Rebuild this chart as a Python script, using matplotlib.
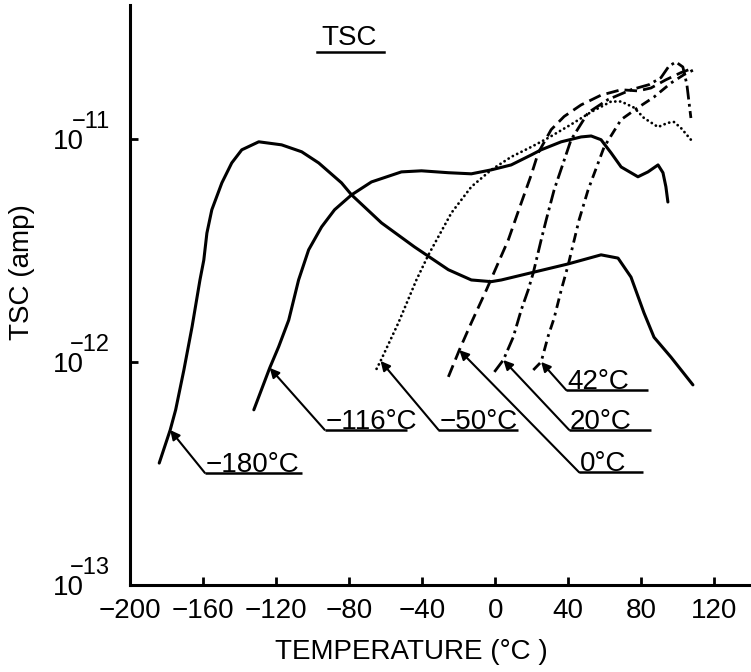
import matplotlib
matplotlib.use("Agg")
import matplotlib.pyplot as plt
import matplotlib.transforms as mtransforms

plt.rcParams['font.family'] = ['Liberation Sans', 'DejaVu Sans']

# ---------------- data ----------------
t_m180 = [-184, -178, -175, -170.5, -166, -161.7, -159.6, -157.9, -155.2, -149.7, -144.3,
          -138.8, -129.5, -117, -106, -96.7, -84.2, -78.7, -62.3, -44.3, -25.7, -13.1,
          -2.2, 3.3, 19.7, 39.9, 57.9, 67.2, 74.3, 81.4, 86.9, 96.2, 108.2]
i_m180 = [3.52e-13, 4.95e-13, 6.10e-13, 9.2e-13, 1.44e-12, 2.33e-12, 2.86e-12, 3.78e-12,
          4.81e-12, 6.35e-12, 7.80e-12, 8.93e-12, 9.70e-12, 9.40e-12, 8.75e-12, 7.80e-12,
          6.35e-12, 5.61e-12, 4.20e-12, 3.28e-12, 2.59e-12, 2.33e-12, 2.29e-12, 2.33e-12,
          2.51e-12, 2.75e-12, 3.02e-12, 2.92e-12, 2.40e-12, 1.66e-12, 1.29e-12, 1.05e-12,
          7.89e-13]

t_m116 = [-132.2, -123.5, -118.6, -113.1, -107.7, -102.2, -95.1, -88, -78.7, -67.8, -51.4,
          -40.4, -25.7, -13.1, -2.2, 8.7, 19.7, 25.1, 36.1, 47, 52.5, 57.9, 63.4, 68.9,
          78.1, 83.6, 89.1, 91.8, 93.4, 94.5]
i_m116 = [6.10e-13, 9.40e-13, 1.17e-12, 1.54e-12, 2.33e-12, 3.18e-12, 4.03e-12, 4.81e-12,
          5.61e-12, 6.41e-12, 7.11e-12, 7.19e-12, 7.05e-12, 6.97e-12, 7.26e-12, 7.64e-12,
          8.47e-12, 8.93e-12, 9.70e-12, 1.02e-11, 1.03e-11, 9.91e-12, 8.65e-12, 7.48e-12,
          6.76e-12, 7.11e-12, 7.64e-12, 7.05e-12, 6.10e-12, 5.21e-12]

t_m50 = [-65, -62.8, -53, -43.2, -36.6, -24, -13.1, -2.2, 8.7, 19.7, 29, 41.5, 52.5, 63.4,
         68.9, 76, 81.4, 89.1, 94.5, 97.8, 101.6, 107.1]
i_m50 = [9.31e-13, 1.01e-12, 1.50e-12, 2.33e-12, 3.02e-12, 4.66e-12, 6.10e-12, 7.26e-12,
         8.30e-12, 9.20e-12, 1.01e-11, 1.16e-11, 1.32e-11, 1.47e-11, 1.47e-11, 1.38e-11,
         1.24e-11, 1.13e-11, 1.18e-11, 1.19e-11, 1.12e-11, 9.91e-12]

t_0 = [-25.7, -19.7, -13.1, -4.9, 1.1, 7.1, 14.2, 19.7, 23.5, 30.6, 37.7, 47, 57.9, 68.9,
       78.1, 85.2, 93.4, 101.6, 108.7]
i_0 = [8.57e-13, 1.13e-12, 1.50e-12, 2.10e-12, 2.72e-12, 3.52e-12, 5.16e-12, 6.90e-12,
       8.65e-12, 1.10e-11, 1.26e-11, 1.42e-11, 1.57e-11, 1.66e-11, 1.64e-11, 1.69e-11,
       1.84e-11, 1.98e-11, 2.08e-11]

t_20 = [-0.5, 4.4, 9.8, 14.2, 18, 20.8, 25.1, 27.9, 32.2, 41.5, 50.8, 61.7, 74.3, 84.2,
        90.7, 95.1, 98.9, 102.7, 104.9, 107.1]
i_20 = [9.02e-13, 1.02e-12, 1.29e-12, 1.71e-12, 2.10e-12, 2.51e-12, 3.52e-12, 4.34e-12,
        5.90e-12, 9.91e-12, 1.31e-11, 1.50e-11, 1.66e-11, 1.75e-11, 1.88e-11, 2.12e-11,
        2.21e-11, 2.10e-11, 1.75e-11, 1.24e-11]

t_42 = [20.8, 25.1, 29, 32.2, 36.1, 39.9, 45.9, 50.8, 59.6, 68.9, 78.1, 86.9, 96.2, 103.3, 108.7]
i_42 = [9.20e-13, 1.00e-12, 1.31e-12, 1.57e-12, 2.10e-12, 2.72e-12, 4.34e-12, 5.90e-12,
        9.20e-12, 1.22e-11, 1.38e-11, 1.54e-11, 1.78e-11, 1.94e-11, 2.04e-11]

labels = ["\u2212180\u00b0C", "\u2212116\u00b0C", "\u221250\u00b0C", "0\u00b0C", "20\u00b0C", "42\u00b0C"]

x_ticks = [-200, -160, -120, -80, -40, 0, 40, 80, 120]
x_ticklabels = ["\u2212200", "\u2212160", "\u2212120", "\u221280", "\u221240", "0", "40", "80", "120"]
y_ticks = [1e-13, 1e-12, 1e-11]
y_exponents = ["\u221213", "\u221212", "\u221211"]

# label layout: (elbow x, underline y, underline end x)
label_layout = [(-159, 3.18e-13, -106), (-93.4, 4.96e-13, -48.6), (-31.1, 4.96e-13, 12.6),
                (45.9, 3.2e-13, 80.9), (40.4, 4.96e-13, 85.2), (38.8, 7.48e-13, 83.6)]

# ---------------- plot ----------------
fig = plt.figure(figsize=(7.51, 6.72), dpi=100)
ax = fig.add_axes([130 / 751, 87 / 672, 621 / 751, 580 / 672])
ax.set_yscale('log')
ax.set_xlim(-200, 140)
ax.set_ylim(1e-13, 10 ** -10.4)

lw = 2.2
series = [
    (t_m180, i_m180, dict(linestyle='-', linewidth=lw)),
    (t_m116, i_m116, dict(linestyle='-', linewidth=lw)),
    (t_m50, i_m50, dict(linestyle=(0, (0.05, 1.7)), linewidth=2.0, dash_capstyle='round')),
    (t_0, i_0, dict(linestyle=(0, (4.5, 2.2)), linewidth=2.0)),
    (t_20, i_20, dict(linestyle=(0, (5, 1.6, 1, 1.6)), linewidth=2.0)),
    (t_42, i_42, dict(linestyle=(0, (3.5, 1.8, 1, 1.8)), linewidth=2.0)),
]
for t, i, st in series:
    ax.plot(t, i, color='black', solid_capstyle='round', solid_joinstyle='round', **st)

for (t, i, _), lab, (ex, uy, ux) in zip(series, labels, label_layout):
    ax.annotate('', xy=(t[1], i[1]), xytext=(ex, uy),
                arrowprops=dict(arrowstyle='-|>', color='black', lw=1.5,
                                mutation_scale=14, shrinkA=0, shrinkB=0))
    ax.plot([ex, ux], [uy, uy], color='black', linewidth=1.8, solid_capstyle='butt')
    ax.text(ex + 0.5, uy * 1.012, lab, fontsize=20, ha='left', va='baseline')

for s in ['top', 'right']:
    ax.spines[s].set_visible(False)
for s in ['left', 'bottom']:
    ax.spines[s].set_linewidth(2.2)

ax.set_xticks(x_ticks)
ax.set_xticklabels(x_ticklabels)
ax.set_yticks(y_ticks)
ax.set_yticklabels([])
ax.yaxis.set_minor_locator(matplotlib.ticker.NullLocator())
ax.tick_params(axis='x', direction='in', length=6, width=2, labelsize=20, pad=9)
ax.tick_params(axis='y', direction='in', length=6, width=2)

# y tick labels drawn as "10" with a raised exponent
trans = mtransforms.blended_transform_factory(ax.transAxes, ax.transData)
for yv, ex_txt in zip(y_ticks, y_exponents):
    base = ax.text(0, yv, "10", fontsize=20, ha='right', va='center', transform=trans
                   + mtransforms.ScaledTranslation(-46 / 100, -3 / 100, fig.dpi_scale_trans),
                   clip_on=False)
    ax.text(0, yv, ex_txt, fontsize=17, ha='right', va='center', transform=trans
            + mtransforms.ScaledTranslation(-20 / 100, 17 / 100, fig.dpi_scale_trans),
            clip_on=False)

fig.text(22 / 751, 1 - 272 / 672, "TSC (amp)", rotation=90, fontsize=20,
         ha='center', va='center')
fig.text(411 / 751, 1 - 652 / 672, "TEMPERATURE (\u00b0C )", fontsize=20,
         ha='center', va='center')

# title "TSC" with underline
fig.text(349 / 751, 1 - 38 / 672, "TSC", fontsize=20, ha='center', va='center')
fig.add_artist(matplotlib.lines.Line2D([317 / 751, 384 / 751], [1 - 52 / 672, 1 - 52 / 672],
                                       color='black', linewidth=1.8))

fig.savefig("out.png", dpi=100)
